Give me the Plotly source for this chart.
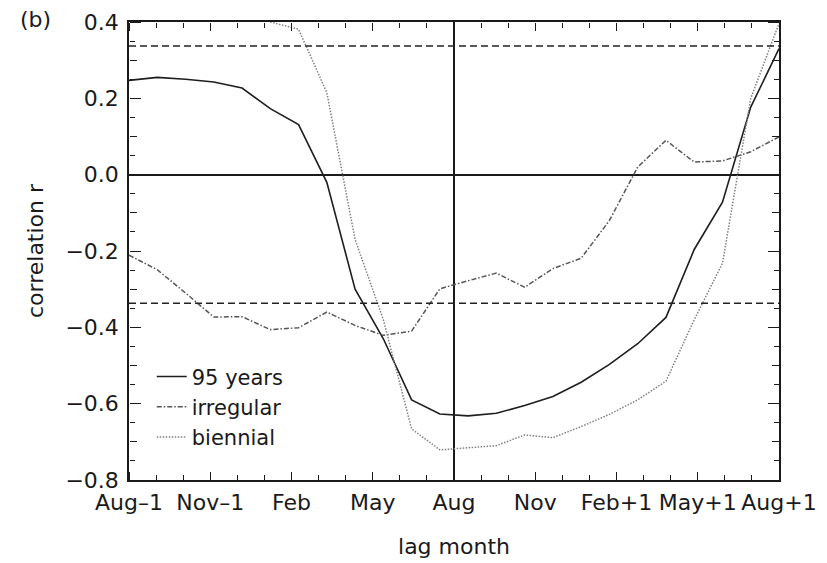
import numpy as np
import plotly.graph_objects as go

# Lag axis: months relative to August (Aug-1 = -12 ... Aug+1 = +12)
tick_months = [-12, -9, -6, -3, 0, 3, 6, 9, 12]
tick_labels = ["Aug\u20131", "Nov\u20131", "Feb", "May", "Aug", "Nov", "Feb+1", "May+1", "Aug+1"]

# 24 lag-correlation samples spread evenly over the two-year window
lag = np.linspace(-12, 12, 24)

r_95_years = [0.247, 0.255, 0.250, 0.243, 0.227, 0.173, 0.131, -0.020,
              -0.300, -0.430, -0.590, -0.627, -0.632, -0.625, -0.605, -0.581,
              -0.544, -0.497, -0.443, -0.374, -0.196, -0.072, 0.177, 0.330]

r_irregular = [-0.211, -0.249, -0.310, -0.373, -0.372, -0.406, -0.401, -0.360,
               -0.395, -0.421, -0.410, -0.299, -0.278, -0.258, -0.295, -0.246,
               -0.219, -0.120, 0.020, 0.090, 0.033, 0.036, 0.060, 0.099]

r_biennial = [None, None, None, None, None, 0.400, 0.381, 0.215,
              -0.170, -0.380, -0.666, -0.721, -0.716, -0.710, -0.682, -0.689,
              -0.660, -0.628, -0.590, -0.541, -0.380, -0.232, 0.200, 0.396]

# 95% significance level of the correlation
sig_level = 0.337

X_RANGE = [-12, 12]
Y_RANGE = [-0.8, 0.4]

FONT = "DejaVu Sans, Liberation Sans, Arial, sans-serif"
INK = "#1a1a1a"
FS = 22

fig = go.Figure()
fig.add_trace(go.Scatter(x=lag, y=r_95_years, mode="lines", name="95 years",
                         line=dict(color="#1e1e1e", width=1.6)))
fig.add_trace(go.Scatter(x=lag, y=r_irregular, mode="lines", name="irregular",
                         line=dict(color="#555555", width=1.5, dash="5px,2px,1.5px,2px")))
fig.add_trace(go.Scatter(x=lag, y=r_biennial, mode="lines", name="biennial",
                         line=dict(color="#808080", width=1.5, dash="1.5px,1.5px")))

for s in (sig_level, -sig_level):
    fig.add_hline(y=s, line=dict(color="#222222", width=1.5, dash="7px,4px"))

fig.add_annotation(text="(b)", xref="paper", yref="paper", x=-0.17, y=1.006,
                   xanchor="left", yanchor="middle", showarrow=False,
                   font=dict(family=FONT, size=FS, color=INK))

# Tick-only axes laid over the frame: each sits on one edge of the plot and
# faces the opposite way, so its "outside" ticks point into the plot area.
def x_tick_axis(side, position):
    return dict(overlaying="x", matches="x", range=X_RANGE, anchor="free",
                position=position, side=side, automargin=False,
                tickmode="array", tickvals=tick_months, showticklabels=False,
                ticks="outside", ticklen=8, tickwidth=1.3, tickcolor=INK,
                minor=dict(dtick=1, tick0=-12, ticks="outside", ticklen=5,
                           tickwidth=1.1, tickcolor=INK),
                showline=False, showgrid=False, zeroline=False)


def y_tick_axis(side, position, step, length, minor_step=None):
    ax = dict(overlaying="y", matches="y", range=Y_RANGE, anchor="free",
              position=position, side=side, automargin=False,
              tickmode="linear", tick0=-0.8, dtick=step, showticklabels=False,
              ticks="outside", ticklen=length, tickwidth=1.3, tickcolor=INK,
              showline=False, showgrid=False, zeroline=False)
    if minor_step:
        ax["minor"] = dict(dtick=minor_step, tick0=-0.8, ticks="outside", ticklen=5,
                           tickwidth=1.1, tickcolor=INK)
    return ax


fig.update_layout(
    width=827, height=563,
    margin=dict(l=129, r=48, t=22, b=83),
    paper_bgcolor="white", plot_bgcolor="white",
    font=dict(family=FONT, size=FS, color=INK),
    showlegend=True,
    legend=dict(x=0.035, y=0.27, xanchor="left", yanchor="top",
                bgcolor="rgba(0,0,0,0)", font=dict(size=21),
                itemwidth=30, tracegroupgap=0),
    xaxis=dict(
        range=X_RANGE, tickmode="array", tickvals=tick_months, ticktext=tick_labels,
        tickfont=dict(size=FS), ticks="", ticklabelstandoff=2, automargin=False,
        showline=True, linecolor=INK, linewidth=1.6, mirror=True,
        showgrid=False, zeroline=True, zerolinecolor=INK, zerolinewidth=1.6,
        title=dict(text="lag month", standoff=24, font=dict(size=FS)),
    ),
    yaxis=dict(
        range=Y_RANGE, tickmode="linear", tick0=-0.8, dtick=0.2, tickformat=".1f",
        tickfont=dict(size=FS), ticks="", ticklabelstandoff=4, automargin=False,
        showline=True, linecolor=INK, linewidth=1.6, mirror=True,
        showgrid=False, zeroline=True, zerolinecolor=INK, zerolinewidth=1.6,
        title=dict(text="correlation r", standoff=16, font=dict(size=FS)),
    ),
    xaxis2=x_tick_axis("top", 0),
    xaxis3=x_tick_axis("bottom", 1),
    yaxis2=y_tick_axis("right", 0, 0.2, 11, 0.05),
    yaxis3=y_tick_axis("left", 1, 0.2, 11, 0.05),
    yaxis4=y_tick_axis("right", 0, 0.1, 7),
    yaxis5=y_tick_axis("left", 1, 0.1, 7),
)

# empty traces that attach the tick-only axes to the figure
for xa, ya in (("x2", "y2"), ("x3", "y3"), ("x2", "y4"), ("x3", "y5")):
    fig.add_trace(go.Scatter(x=[None], y=[None], xaxis=xa, yaxis=ya,
                             showlegend=False, hoverinfo="skip", mode="lines"))

fig.write_html("out.html")
